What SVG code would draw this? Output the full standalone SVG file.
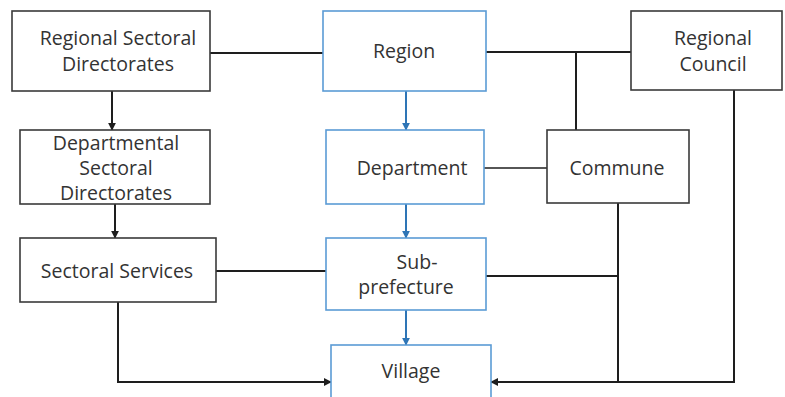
<svg xmlns="http://www.w3.org/2000/svg" width="785" height="397" viewBox="0 0 785 397">
<style>
.k{fill:#fff;stroke:#3a3a3a;stroke-width:1.6}
.b{fill:#fff;stroke:#5b9bd5;stroke-width:1.6}
.t{font-family:"Open Sans","Liberation Sans",sans-serif;font-size:19.5px;fill:#333;text-anchor:middle}
.c{fill:none;stroke:#1e1e1e;stroke-width:2}
.cb{fill:none;stroke:#2e75b6;stroke-width:2}
</style>
<defs>
<marker id="ak" viewBox="0 0 10 10" refX="9" refY="5" markerWidth="4" markerHeight="4" orient="auto"><path d="M0,0L10,5L0,10z" fill="#1e1e1e"/></marker>
<marker id="ab" viewBox="0 0 10 10" refX="9" refY="5" markerWidth="4" markerHeight="4" orient="auto"><path d="M0,0L10,5L0,10z" fill="#2e75b6"/></marker>
</defs>
<g id="connectors">
<path class="c" d="M210,53H323"/>
<path class="c" d="M486,52H631"/>
<path class="c" d="M576,52V130"/>
<path class="c" style="stroke-width:1.4" d="M484,168H547"/>
<path class="c" d="M216,271H326"/>
<path class="c" d="M486,276H618"/>
<path class="c" d="M618,203V382"/>
<path class="c" d="M112,91V130" marker-end="url(#ak)"/>
<path class="c" d="M115,204V238" marker-end="url(#ak)"/>
<path class="c" d="M118,302V382H331" marker-end="url(#ak)"/>
<path class="c" d="M734,90V382H491" marker-end="url(#ak)"/>
<path class="cb" d="M406,91V130" marker-end="url(#ab)"/>
<path class="cb" d="M406,204V238" marker-end="url(#ab)"/>
<path class="cb" d="M406,310V345" marker-end="url(#ab)"/>
</g>
<g id="rsd"><rect class="k" x="12" y="11" width="198" height="80"/><text class="t" x="118" y="45">Regional Sectoral</text><text class="t" x="118" y="71">Directorates</text></g>
<g id="region"><rect class="b" x="323" y="11" width="163" height="80"/><text class="t" x="404" y="58">Region</text></g>
<g id="council"><rect class="k" x="631" y="11" width="151" height="79"/><text class="t" x="713" y="45">Regional</text><text class="t" x="713" y="71">Council</text></g>
<g id="dsd"><rect class="k" x="20" y="130" width="190" height="74"/><text class="t" x="116" y="150">Departmental</text><text class="t" x="116" y="175">Sectoral</text><text class="t" x="116" y="200">Directorates</text></g>
<g id="department"><rect class="b" x="326" y="130" width="158" height="74"/><text class="t" x="412" y="175">Department</text></g>
<g id="commune"><rect class="k" x="547" y="130" width="142" height="73"/><text class="t" x="617" y="175">Commune</text></g>
<g id="services"><rect class="k" x="20" y="238" width="196" height="64"/><text class="t" x="117" y="278">Sectoral Services</text></g>
<g id="subprefecture"><rect class="b" x="326" y="238" width="160" height="72"/><text class="t" x="417" y="269">Sub-</text><text class="t" x="406" y="294">prefecture</text></g>
<g id="village"><rect class="b" x="331" y="345" width="160" height="60"/><text class="t" x="411" y="378">Village</text></g>
</svg>
